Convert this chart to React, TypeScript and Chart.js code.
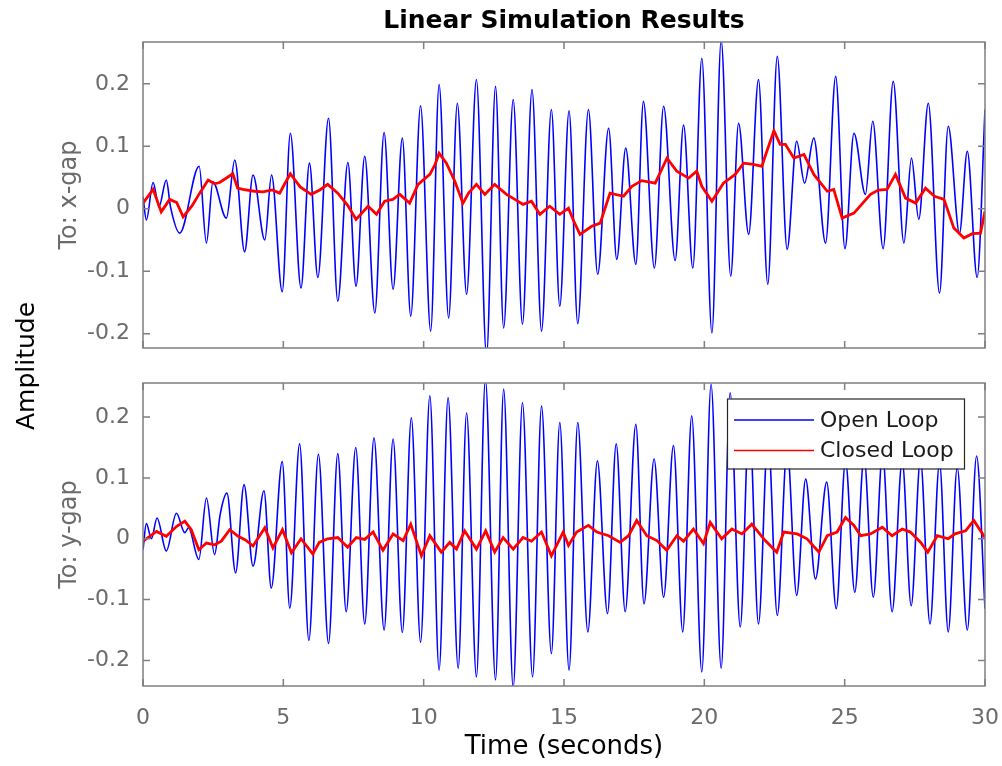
import React, { useEffect, useRef } from "react";
import { Chart, registerables } from "chart.js";

Chart.register(...registerables);

// ---------- data ----------
const timeTicks = [0, 5, 10, 15, 20, 25, 30];
const ampTicks = [-0.2, -0.1, 0, 0.1, 0.2];
const xGapRange = [-0.223, 0.267];
const yGapRange = [-0.242, 0.256];
const seriesNames = ["Open Loop", "Closed Loop"];
const panelNames = ["To: x-gap", "To: y-gap"];

// [time (s), amplitude]
const xGapOpen = [
  [0, 0.019], [0.12, -0.018], [0.36, 0.042], [0.57, 0.003], [0.83, 0.046], [0.98, 0.003],
  [1.31, -0.039], [2.0, 0.068], [2.26, -0.055], [2.49, 0.043], [2.97, -0.015], [3.27, 0.078],
  [3.62, -0.069], [3.92, 0.054], [4.34, -0.05], [4.58, 0.054], [4.96, -0.133], [5.25, 0.121],
  [5.63, -0.127], [5.93, 0.073], [6.23, -0.11], [6.61, 0.145], [6.94, -0.148], [7.3, 0.074],
  [7.59, -0.124], [7.9, 0.084], [8.26, -0.167], [8.59, 0.122], [8.91, -0.129], [9.24, 0.113],
  [9.54, -0.172], [9.89, 0.165], [10.25, -0.196], [10.55, 0.199], [10.89, -0.175], [11.2, 0.169],
  [11.53, -0.137], [11.88, 0.207], [12.24, -0.235], [12.56, 0.196], [12.85, -0.191], [13.19, 0.175],
  [13.52, -0.185], [13.86, 0.191], [14.2, -0.196], [14.55, 0.159], [14.85, -0.156], [15.18, 0.157],
  [15.49, -0.184], [15.87, 0.159], [16.2, -0.105], [16.59, 0.129], [16.88, -0.081], [17.2, 0.097],
  [17.56, -0.089], [17.83, 0.172], [18.22, -0.095], [18.55, 0.164], [18.96, -0.083], [19.26, 0.134],
  [19.59, -0.095], [19.91, 0.241], [20.27, -0.199], [20.6, 0.27], [20.94, -0.108], [21.22, 0.137],
  [21.58, -0.041], [21.93, 0.207], [22.26, -0.121], [22.6, 0.244], [22.95, -0.065], [23.29, 0.108],
  [23.57, 0.041], [23.9, 0.113], [24.32, -0.055], [24.68, 0.212], [25.01, -0.064], [25.33, 0.121],
  [25.74, 0.023], [26.0, 0.14], [26.37, -0.064], [26.73, 0.204], [27.11, -0.055], [27.38, 0.081],
  [27.64, -0.017], [27.98, 0.169], [28.38, -0.135], [28.69, 0.132], [29.09, -0.039], [29.37, 0.092],
  [29.72, -0.11], [30, 0.159],
];

const xGapClosed = [
  [0, 0.009], [0.36, 0.031], [0.65, -0.005], [0.95, 0.015], [1.2, 0.01], [1.43, -0.013],
  [1.75, 0.005], [2.02, 0.025], [2.32, 0.046], [2.55, 0.04], [2.73, 0.042], [3.0, 0.05],
  [3.2, 0.056], [3.37, 0.033], [3.56, 0.031], [3.97, 0.028], [4.28, 0.027], [4.6, 0.03],
  [4.87, 0.025], [5.05, 0.04], [5.25, 0.056], [5.6, 0.035], [5.99, 0.023], [6.3, 0.03],
  [6.58, 0.039], [6.94, 0.025], [7.3, 0.005], [7.59, -0.017], [8.02, 0.004], [8.32, -0.009],
  [8.61, 0.012], [8.9, 0.015], [9.15, 0.023], [9.5, 0.009], [9.8, 0.039], [10.22, 0.055],
  [10.4, 0.07], [10.55, 0.089], [10.81, 0.073], [11.11, 0.044], [11.4, 0.009], [11.6, 0.025],
  [11.88, 0.039], [12.18, 0.023], [12.53, 0.039], [12.95, 0.023], [13.25, 0.015], [13.54, 0.007],
  [13.84, 0.012], [14.14, -0.009], [14.49, 0.004], [14.85, -0.009], [15.16, 0.001], [15.35, -0.02],
  [15.57, -0.041], [15.99, -0.028], [16.29, -0.023], [16.64, 0.025], [17.12, 0.02], [17.42, 0.036],
  [17.77, 0.045], [18.25, 0.041], [18.45, 0.06], [18.67, 0.081], [19.02, 0.06], [19.44, 0.049],
  [19.73, 0.06], [19.91, 0.036], [20.27, 0.012], [20.68, 0.041], [21.1, 0.055], [21.4, 0.073],
  [21.75, 0.071], [22.05, 0.068], [22.25, 0.095], [22.48, 0.125], [22.7, 0.103], [22.89, 0.103],
  [23.19, 0.081], [23.55, 0.087], [23.9, 0.055], [24.38, 0.028], [24.61, 0.031], [24.91, -0.015],
  [25.33, -0.007], [25.92, 0.023], [26.2, 0.03], [26.51, 0.031], [26.81, 0.055], [27.17, 0.017],
  [27.53, 0.009], [27.88, 0.033], [28.2, 0.02], [28.54, 0.015], [28.89, -0.031], [29.25, -0.047],
  [29.55, -0.04], [29.84, -0.039], [30, -0.004],
];

const yGapOpen = [
  [0, -0.018], [0.12, 0.025], [0.3, 0.0], [0.5, 0.034], [0.83, -0.02], [1.19, 0.042],
  [1.49, 0.01], [1.62, 0.018], [1.99, -0.034], [2.26, 0.067], [2.55, -0.026], [2.75, 0.04],
  [2.99, 0.075], [3.3, -0.056], [3.6, 0.089], [3.92, -0.045], [4.31, 0.079], [4.57, -0.081],
  [4.96, 0.127], [5.23, -0.114], [5.58, 0.156], [5.91, -0.167], [6.25, 0.139], [6.61, -0.172],
  [6.94, 0.14], [7.24, -0.12], [7.58, 0.15], [7.9, -0.14], [8.23, 0.166], [8.59, -0.15],
  [8.91, 0.164], [9.24, -0.154], [9.56, 0.199], [9.89, -0.17], [10.22, 0.235], [10.55, -0.216],
  [10.87, 0.232], [11.23, -0.213], [11.53, 0.207], [11.88, -0.227], [12.2, 0.262], [12.56, -0.232],
  [12.85, 0.246], [13.19, -0.245], [13.52, 0.224], [13.88, -0.227], [14.2, 0.218], [14.55, -0.189],
  [14.85, 0.191], [15.18, -0.216], [15.49, 0.191], [15.85, -0.153], [16.19, 0.128], [16.55, -0.123],
  [16.86, 0.156], [17.18, -0.12], [17.56, 0.188], [17.85, -0.107], [18.21, 0.131], [18.55, -0.096],
  [18.9, 0.153], [19.23, -0.153], [19.55, 0.202], [19.91, -0.219], [20.24, 0.254], [20.6, -0.213],
  [20.92, 0.24], [21.28, -0.145], [21.6, 0.2], [21.93, -0.14], [22.27, 0.17], [22.6, -0.126],
  [22.95, 0.15], [23.29, -0.093], [23.61, 0.098], [23.96, -0.066], [24.36, 0.093], [24.7, -0.115],
  [25.03, 0.128], [25.36, -0.088], [25.69, 0.134], [26.02, -0.096], [26.35, 0.14], [26.69, -0.12],
  [27.05, 0.128], [27.37, -0.11], [27.7, 0.13], [28.04, -0.14], [28.38, 0.125], [28.69, -0.153],
  [29.01, 0.117], [29.37, -0.15], [29.7, 0.136], [30, -0.115],
];

const yGapClosed = [
  [0, -0.004], [0.24, 0.004], [0.48, 0.012], [0.83, 0.004], [1.19, 0.02], [1.49, 0.029],
  [1.72, 0.015], [1.99, -0.018], [2.26, -0.007], [2.55, -0.01], [2.79, -0.004], [3.09, 0.015],
  [3.39, 0.004], [3.65, -0.002], [3.92, -0.012], [4.34, 0.018], [4.63, -0.015], [4.97, 0.015],
  [5.29, -0.023], [5.63, 0.0], [6.05, -0.025], [6.28, -0.006], [6.58, 0.0], [6.94, 0.002],
  [7.29, -0.014], [7.6, 0.002], [7.9, -0.001], [8.2, 0.011], [8.55, -0.019], [8.91, 0.008],
  [9.27, -0.003], [9.54, 0.024], [9.92, -0.028], [10.22, 0.005], [10.63, -0.022], [10.93, -0.006],
  [11.17, -0.017], [11.46, 0.013], [11.88, -0.017], [12.21, 0.013], [12.53, -0.022], [12.83, 0.002],
  [13.19, -0.017], [13.54, 0.002], [13.84, -0.004], [14.2, 0.011], [14.55, -0.028], [14.97, 0.011],
  [15.16, -0.011], [15.45, 0.011], [15.87, 0.022], [16.17, 0.011], [16.59, 0.005], [17.0, -0.006],
  [17.3, 0.005], [17.59, 0.03], [17.95, 0.005], [18.31, -0.003], [18.66, -0.019], [19.02, 0.005],
  [19.26, -0.004], [19.61, 0.016], [19.97, -0.008], [20.21, 0.027], [20.62, 0.0], [20.98, 0.016],
  [21.34, 0.008], [21.69, 0.024], [22.17, -0.003], [22.58, -0.022], [22.83, 0.011], [23.31, 0.008],
  [23.66, 0.0], [24.08, -0.022], [24.38, 0.005], [24.73, 0.011], [25.03, 0.035], [25.33, 0.022],
  [25.57, 0.005], [25.92, 0.008], [26.34, 0.019], [26.69, 0.005], [27.05, 0.016], [27.34, 0.011],
  [27.71, -0.006], [27.96, -0.022], [28.3, 0.005], [28.69, 0.0], [28.93, 0.008], [29.31, 0.013],
  [29.6, 0.03], [29.84, 0.013], [30, 0.002],
];

// ---------- styles ----------
const FONT = "'DejaVu Sans', sans-serif";
const AXIS_COLOR = "#7f7f7f";
const LABEL_COLOR = "#6b6b6b";
const OPEN_COLOR = "#0000ff";
const CLOSED_COLOR = "#ff0000";

const fmt = (v: number) => String(Math.round(v * 10) / 10);

function makeFramePlugin(withLegend: boolean) {
  return {
    id: "frame",
    afterDatasetsDraw(chart: any) {
      const { ctx, chartArea: a, scales } = chart;
      ctx.save();
      if (withLegend) {
        const w = 237, h = 70;
        const x0 = a.right - 258, y0 = a.top + 15.5;
        ctx.fillStyle = "#ffffff";
        ctx.fillRect(x0, y0, w, h);
        ctx.strokeStyle = "#262626";
        ctx.lineWidth = 1.2;
        ctx.strokeRect(x0 + 0.5, y0 + 0.5, w, h);
        const rows = [
          { name: seriesNames[0], color: OPEN_COLOR, y: y0 + 21.5 },
          { name: seriesNames[1], color: CLOSED_COLOR, y: y0 + 52 },
        ];
        ctx.font = `22px ${FONT}`;
        ctx.textBaseline = "middle";
        ctx.textAlign = "left";
        for (const r of rows) {
          ctx.strokeStyle = r.color;
          ctx.lineWidth = 1.6;
          ctx.beginPath();
          ctx.moveTo(x0 + 7, r.y);
          ctx.lineTo(x0 + 87, r.y);
          ctx.stroke();
          ctx.fillStyle = "#1a1a1a";
          ctx.fillText(r.name, x0 + 93, r.y + 1);
        }
      }
      // box + inward ticks
      ctx.strokeStyle = AXIS_COLOR;
      ctx.lineWidth = 1.5;
      ctx.strokeRect(a.left, a.top, a.right - a.left, a.bottom - a.top);
      const tl = 7;
      ctx.beginPath();
      for (const v of timeTicks) {
        const px = scales.x.getPixelForValue(v);
        ctx.moveTo(px, a.bottom);
        ctx.lineTo(px, a.bottom - tl);
        ctx.moveTo(px, a.top);
        ctx.lineTo(px, a.top + tl);
      }
      for (const v of ampTicks) {
        const py = scales.y.getPixelForValue(v);
        ctx.moveTo(a.left, py);
        ctx.lineTo(a.left + tl, py);
        ctx.moveTo(a.right, py);
        ctx.lineTo(a.right - tl, py);
      }
      ctx.stroke();
      ctx.restore();
    },
  };
}

function makeConfig(opts: {
  open: number[][];
  closed: number[][];
  range: number[];
  yTitle: string;
  padTop: number;
  padBottom: number;
  xHeight: number;
  showX: boolean;
  legend: boolean;
}): any {
  return {
    type: "line",
    data: {
      datasets: [
        {
          label: seriesNames[0],
          data: opts.open.map(([x, y]) => ({ x, y })),
          borderColor: OPEN_COLOR,
          borderWidth: 1.6,
          pointRadius: 0,
          tension: 0.4,
          cubicInterpolationMode: "monotone",
          clip: 0,
          order: 2,
        },
        {
          label: seriesNames[1],
          data: opts.closed.map(([x, y]) => ({ x, y })),
          borderColor: CLOSED_COLOR,
          borderWidth: 2.8,
          pointRadius: 0,
          tension: 0,
          clip: 0,
          order: 1,
        },
      ],
    },
    options: {
      animation: false,
      responsive: false,
      maintainAspectRatio: false,
      events: [],
      layout: { padding: { top: opts.padTop, right: 17, left: 0, bottom: opts.padBottom } },
      plugins: { legend: { display: false }, tooltip: { enabled: false }, title: { display: false } },
      scales: {
        x: {
          type: "linear",
          min: 0,
          max: 30,
          afterBuildTicks: (s: any) => {
            s.ticks = timeTicks.map((v) => ({ value: v }));
          },
          afterFit: (s: any) => {
            s.height = opts.xHeight;
            s.paddingLeft = 0;
            s.paddingRight = 0;
          },
          grid: { display: false, drawTicks: false },
          border: { display: false },
          ticks: {
            display: opts.showX,
            padding: 19,
            color: LABEL_COLOR,
            font: { family: FONT, size: 22 },
            maxRotation: 0,
            callback: (v: number) => String(v),
          },
          title: {
            display: opts.showX,
            text: "Time (seconds)",
            color: "#000000",
            font: { family: FONT, size: 26 },
            padding: { top: 0, bottom: 3 },
          },
        },
        y: {
          type: "linear",
          min: opts.range[0],
          max: opts.range[1],
          afterBuildTicks: (s: any) => {
            s.ticks = ampTicks.map((v) => ({ value: v }));
          },
          afterFit: (s: any) => {
            s.width = 143;
            s.paddingTop = 0;
            s.paddingBottom = 0;
          },
          grid: { display: false, drawTicks: false },
          border: { display: false },
          ticks: {
            padding: 13,
            color: LABEL_COLOR,
            font: { family: FONT, size: 22 },
            callback: (v: number) => fmt(v),
          },
          title: {
            display: true,
            text: opts.yTitle,
            color: LABEL_COLOR,
            font: { family: FONT, size: 24 },
            padding: { top: 55, bottom: 0 },
          },
        },
      },
    },
    plugins: [makeFramePlugin(opts.legend)],
  };
}

export default function App() {
  const topRef = useRef<HTMLCanvasElement>(null);
  const botRef = useRef<HTMLCanvasElement>(null);

  useEffect(() => {
    const c1 = new Chart(
      topRef.current as HTMLCanvasElement,
      makeConfig({
        open: xGapOpen,
        closed: xGapClosed,
        range: xGapRange,
        yTitle: panelNames[0],
        padTop: 42,
        padBottom: 0,
        xHeight: 17,
        showX: false,
        legend: false,
      })
    );
    const c2 = new Chart(
      botRef.current as HTMLCanvasElement,
      makeConfig({
        open: yGapOpen,
        closed: yGapClosed,
        range: yGapRange,
        yTitle: panelNames[1],
        padTop: 18,
        padBottom: 0,
        xHeight: 80,
        showX: true,
        legend: true,
      })
    );
    return () => {
      c1.destroy();
      c2.destroy();
    };
  }, []);

  return (
    <div
      style={{
        position: "absolute",
        left: 0,
        top: 0,
        width: 1002,
        height: 766,
        background: "#ffffff",
        overflow: "hidden",
      }}
    >
      <canvas
        ref={topRef}
        width={1002}
        height={365}
        style={{ position: "absolute", left: 0, top: 0, width: 1002, height: 365 }}
      />
      <canvas
        ref={botRef}
        width={1002}
        height={401}
        style={{ position: "absolute", left: 0, top: 365, width: 1002, height: 401 }}
      />
      <div
        style={{
          position: "absolute",
          left: 264,
          top: 5,
          width: 600,
          height: 30,
          lineHeight: "30px",
          textAlign: "center",
          fontFamily: FONT,
          fontWeight: "bold",
          fontSize: 25,
          color: "#000000",
          whiteSpace: "nowrap",
        }}
      >
        Linear Simulation Results
      </div>
      <div
        style={{
          position: "absolute",
          left: 25.5 - 100,
          top: 366 - 15,
          width: 200,
          height: 30,
          lineHeight: "30px",
          textAlign: "center",
          fontFamily: FONT,
          fontSize: 25,
          color: "#000000",
          transform: "rotate(-90deg)",
          transformOrigin: "center center",
          whiteSpace: "nowrap",
        }}
      >
        Amplitude
      </div>
    </div>
  );
}
